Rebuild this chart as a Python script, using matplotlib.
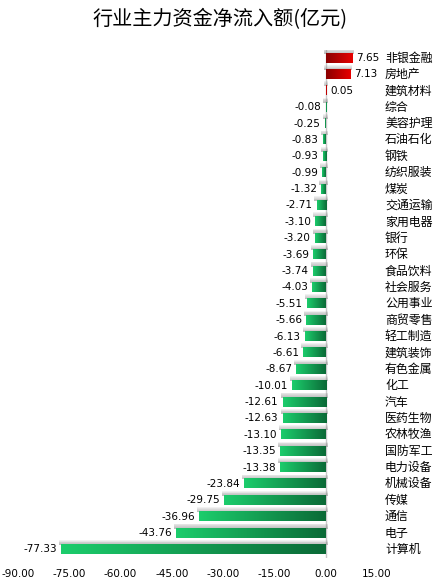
import numpy as np
import matplotlib.pyplot as plt
from matplotlib.colors import LinearSegmentedColormap

plt.rcParams['font.family'] = ['Noto Sans CJK SC', 'DejaVu Sans']

sectors = ['非银金融', '房地产', '建筑材料', '综合', '美容护理', '石油石化', '钢铁',
           '纺织服装', '煤炭', '交通运输', '家用电器', '银行', '环保', '食品饮料',
           '社会服务', '公用事业', '商贸零售', '轻工制造', '建筑装饰', '有色金属',
           '化工', '汽车', '医药生物', '农林牧渔', '国防军工', '电力设备', '机械设备',
           '传媒', '通信', '电子', '计算机']
flows = [7.65, 7.13, 0.05, -0.08, -0.25, -0.83, -0.93, -0.99, -1.32, -2.71, -3.10,
         -3.20, -3.69, -3.74, -4.03, -5.51, -5.66, -6.13, -6.61, -8.67, -10.01,
         -12.61, -12.63, -13.10, -13.35, -13.38, -23.84, -29.75, -36.96, -43.76,
         -77.33]
xticks = [-90, -75, -60, -45, -30, -15, 0, 15]

green = LinearSegmentedColormap.from_list('g', ['#1ccd6c', '#0b6a37'])
red = LinearSegmentedColormap.from_list('r', ['#8a0000', '#e80000'])
grad = np.linspace(0, 1, 256).reshape(1, -1)

fig = plt.figure(figsize=(4.4, 5.87), dpi=100)
ax = fig.add_axes([0.041, 0.05, 0.816, 0.865])

n = len(sectors)
bh = 0.55
for i, (name, v) in enumerate(zip(sectors, flows)):
    y = i
    left, right = min(0, v), max(0, v)
    # soft shadow above the bar
    for k in range(6):
        off = 0.05 * (k + 1)
        ax.fill_between([left - 0.6, right + 0.6], y - bh / 2 - off, y - bh / 2,
                        color='#808080', alpha=0.11, lw=0, zorder=1)
    cmap = green if v < 0 else red
    ax.imshow(grad, cmap=cmap, aspect='auto', zorder=2,
              extent=(left, right, y + bh / 2, y - bh / 2), interpolation='bicubic')
    if v < 0:
        ax.text(v - 1.2, y, f'{v:.2f}', ha='right', va='center', fontsize=7.5,
                family='DejaVu Sans', zorder=3)
    else:
        ax.text(v + 1.2, y, f'{v:.2f}', ha='left', va='center', fontsize=7.5,
                family='DejaVu Sans', zorder=3)
    ax.text(1.022, y, name, transform=ax.get_yaxis_transform(), ha='left',
            va='center', fontsize=8.6)

ax.axvline(0, color='#c8c8c8', lw=1, zorder=0)
ax.set_xlim(-90, 15)
ax.set_ylim(n - 0.5, -0.5)
ax.set_xticks(xticks)
ax.set_xticklabels([f'{t:.2f}' for t in xticks], fontsize=7.5, family='DejaVu Sans')
ax.set_yticks([])
ax.tick_params(axis='x', length=0, pad=8)
for s in ax.spines.values():
    s.set_visible(False)

fig.text(0.5, 0.967, '行业主力资金净流入额(亿元)', ha='center', va='center',
         fontsize=14.5)

fig.savefig('out.png', dpi=100)
